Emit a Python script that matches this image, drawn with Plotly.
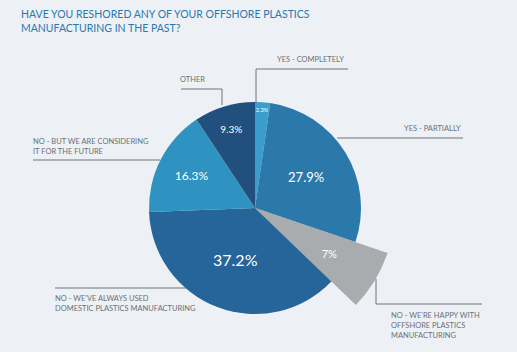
import plotly.graph_objects as go

categories = [
    "YES - COMPLETELY",
    "YES - PARTIALLY",
    "NO - WE'RE HAPPY WITH OFFSHORE PLASTICS MANUFACTURING",
    "NO - WE'VE ALWAYS USED DOMESTIC PLASTICS MANUFACTURING",
    "NO - BUT WE ARE CONSIDERING IT FOR THE FUTURE",
    "OTHER",
]
values = [2.3, 27.9, 7.0, 37.2, 16.3, 9.3]
pct_labels = ["2.3%", "27.9%", "7%", "37.2%", "16.3%", "9.3%"]
label_lines = [
    "YES - COMPLETELY",
    "YES - PARTIALLY",
    "NO - WE'RE HAPPY WITH<br>OFFSHORE PLASTICS<br>MANUFACTURING",
    "NO - WE'VE ALWAYS USED<br>DOMESTIC PLASTICS MANUFACTURING",
    "NO - BUT WE ARE CONSIDERING<br>IT FOR THE FUTURE",
    "OTHER",
]

W, H = 517, 352
BG = "#edf1f5"
colors = ["#3a9dcc", "#2a79aa", "#a9acae", "#25659a", "#2e93c1", "#22507e"]
font_sizes = [6, 13, 11, 16, 12, 10]

cx, cy = 255, 208
r_main, r_big = 106, 140


def dom(r):
    return dict(x=[(cx - r) / W, (cx + r) / W],
                y=[(H - cy - r) / H, (H - cy + r) / H])


big_colors = [c if i == 2 else "rgba(0,0,0,0)" for i, c in enumerate(colors)]

fig = go.Figure()
# enlarged "offshore" slice drawn underneath
fig.add_trace(go.Pie(
    labels=categories, values=values, sort=False, direction="clockwise", rotation=0,
    marker=dict(colors=big_colors, line=dict(width=0)),
    textinfo="none",
    domain=dom(r_big), showlegend=False, hoverinfo="skip",
))
fig.add_trace(go.Pie(
    labels=categories, values=values, sort=False, direction="clockwise", rotation=0,
    marker=dict(colors=colors, line=dict(width=0)),
    text=pct_labels, textinfo="text", textposition="inside",
    insidetextorientation="horizontal",
    textfont=dict(color="white", size=font_sizes, family="Lato"),
    domain=dom(r_main), showlegend=False, hoverinfo="label+percent",
))

LBL = dict(family="Lato", size=7.5, color="#6b7074")
LINE = dict(color="#6f7478", width=1)


def px(x):
    return x / W


def py(y):
    return 1 - y / H


annotations = []
shapes = []

# title
annotations.append(dict(
    x=px(19), y=py(6), xanchor="left", yanchor="top", align="left",
    text="HAVE YOU RESHORED ANY OF YOUR OFFSHORE PLASTICS<br>MANUFACTURING IN THE PAST?",
    font=dict(family="Lato", size=10.5, color="#2a78ad"),
    showarrow=False, xref="paper", yref="paper"))


def seg(x0, y0, x1, y1):
    shapes.append(dict(type="line", xref="paper", yref="paper",
                       x0=px(x0), y0=py(y0), x1=px(x1), y1=py(y1), line=LINE))


def lab(text, x, y, anchor="left", yanchor="top"):
    annotations.append(dict(x=px(x), y=py(y), xanchor=anchor, yanchor=yanchor,
                            align=anchor if anchor != "center" else "center",
                            text=text, font=LBL, showarrow=False,
                            xref="paper", yref="paper"))


# YES - COMPLETELY
seg(256, 69, 348, 69)
seg(256, 69, 256, 103)
lab(label_lines[0], 310, 66, "center", "bottom")
# YES - PARTIALLY
seg(337, 138, 463, 138)
lab(label_lines[1], 463, 135, "right", "bottom")
# OFFSHORE
seg(376, 279, 376, 304)
seg(376, 304, 482, 304)
lab(label_lines[2], 389, 309, "left", "top")
# DOMESTIC
seg(55, 288, 186, 288)
lab(label_lines[3], 53, 292, "left", "top")
# CONSIDERING
seg(33, 160, 160, 160)
lab(label_lines[4], 31, 135, "left", "top")
# OTHER
seg(181, 89, 222, 89)
seg(222, 89, 222, 105)
lab(label_lines[5], 192, 86, "center", "bottom")

fig.update_layout(
    width=W, height=H, margin=dict(l=0, r=0, t=0, b=0),
    paper_bgcolor=BG, plot_bgcolor=BG,
    annotations=annotations, shapes=shapes,
)
fig.write_html("out.html")
